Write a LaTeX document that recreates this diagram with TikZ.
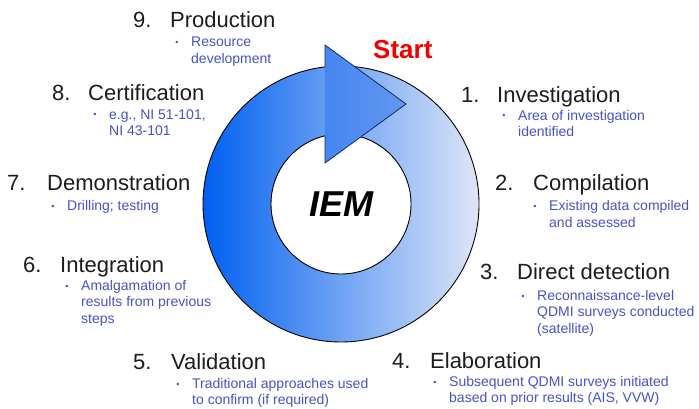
\documentclass[tikz,border=0pt]{standalone}
\usepackage{fontspec}
\setmainfont{Liberation Sans}
\definecolor{ringL}{RGB}{0,96,240}
\definecolor{ringR}{RGB}{222,230,247}
\definecolor{headL}{RGB}{70,134,240}
\definecolor{headR}{RGB}{98,152,240}
\definecolor{headline}{RGB}{20,40,100}
\definecolor{titlecol}{RGB}{28,28,28}
\definecolor{subcol}{RGB}{70,82,200}
\definecolor{startred}{RGB}{240,0,0}
\tikzset{
  stepnum/.style={anchor=base west, inner sep=0pt, text=titlecol, font=\fontsize{22}{26}\selectfont},
  steptitle/.style={anchor=base west, inner sep=0pt, text=titlecol, font=\fontsize{22}{26}\selectfont},
  stepsub/.style={anchor=base west, inner sep=0pt, text=subcol, align=left, font=\fontsize{14}{16.5}\selectfont},
  stepbullet/.style={anchor=base, inner sep=0pt, text=subcol, font=\fontsize{9}{10}\selectfont, yshift=1pt},
}
\begin{document}
\begin{tikzpicture}[x=1pt,y=-1pt]
\useasboundingbox (0,0) rectangle (699,409);
% ring
\shade[even odd rule, left color=ringL, right color=ringR] (341,204) circle (138) (341,204) circle (70);
\draw[black, line width=0.9pt] (341,204) circle (138);
\draw[black, line width=0.9pt] (341,204) circle (70);
% arrow head
\shade[left color=headL, right color=headR] (325,45) -- (406,104) -- (325,163) -- cycle;
\draw[headline, line width=0.8pt, line join=miter] (325,67) -- (325,45) -- (406,104) -- (325,163) -- (325,136);
% centre and start
\node[anchor=base, inner sep=0pt, font=\fontsize{36}{40}\selectfont\bfseries\itshape] (iem) at (341,216) {IEM};
\node[anchor=base west, inner sep=0pt, text=startred, font=\fontsize{26}{30}\selectfont\bfseries] (start) at (373,59) {Start};
% 9
\node[stepnum] (n9) at (133,28) {9.};
\node[steptitle] (t9) at (170,28) {Production};
\node[stepbullet] (b9) at (177,47) {•};
\node[stepsub] (s9) at (191,63.5) {Resource\\development};
% 8
\node[stepnum] (n8) at (52,101) {8.};
\node[steptitle] (t8) at (88,101) {Certification};
\node[stepbullet] (b8) at (95,119) {•};
\node[stepsub] (s8) at (109,135.5) {e.g., NI 51-101,\\NI 43-101};
% 7
\node[stepnum] (n7) at (7,190) {7.};
\node[steptitle] (t7) at (47,190) {Demonstration};
\node[stepbullet] (b7) at (53,210) {•};
\node[stepsub] (s7) at (67,210) {Drilling; testing};
% 6
\node[stepnum] (n6) at (23,272) {6.};
\node[steptitle] (t6) at (60,272) {Integration};
\node[stepbullet] (b6) at (67,290) {•};
\node[stepsub] (s6) at (81,323) {Amalgamation of\\results from previous\\steps};
% 5
\node[stepnum] (n5) at (133,369) {5.};
\node[steptitle] (t5) at (171,369) {Validation};
\node[stepbullet] (b5) at (178,388) {•};
\node[stepsub] (s5) at (192,404.5) {Traditional approaches used\\to confirm (if required)};
% 4
\node[stepnum] (n4) at (392,368) {4.};
\node[steptitle] (t4) at (430,368) {Elaboration};
\node[stepbullet] (b4) at (435,386) {•};
\node[stepsub] (s4) at (449,402.5) {Subsequent QDMI surveys initiated\\based on prior results (AIS, VVW)};
% 3
\node[stepnum] (n3) at (480,279) {3.};
\node[steptitle] (t3) at (517,279) {Direct detection};
\node[stepbullet] (b3) at (523,300) {•};
\node[stepsub] (s3) at (537,333) {Reconnaissance-level\\QDMI surveys conducted\\(satellite)};
% 2
\node[stepnum] (n2) at (495,190) {2.};
\node[steptitle] (t2) at (533,190) {Compilation};
\node[stepbullet] (b2) at (535,210.5) {•};
\node[stepsub] (s2) at (549,227) {Existing data compiled\\and assessed};
% 1
\node[stepnum] (n1) at (461,103) {1.};
\node[steptitle] (t1) at (497,103) {Investigation};
\node[stepbullet] (b1) at (504,120) {•};
\node[stepsub] (s1) at (518,136.5) {Area of investigation\\identified};
\end{tikzpicture}
\end{document}
